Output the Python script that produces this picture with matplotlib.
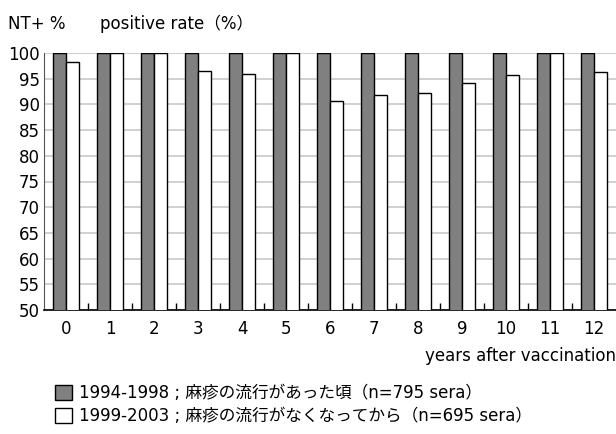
import matplotlib
matplotlib.use('Agg')
import matplotlib.pyplot as plt
import numpy as np

plt.rcParams['font.family'] = ['DejaVu Sans', 'Noto Sans CJK JP']

# data ========================
years = [0, 1, 2, 3, 4, 5, 6, 7, 8, 9, 10, 11, 12]
rate_9498 = [100, 100, 100, 100, 100, 100, 100, 100, 100, 100, 100, 100, 100]
rate_9903 = [98.3, 100, 100, 96.5, 96.0, 100, 90.7, 91.9, 92.2, 94.1, 95.7, 100, 96.4]
y_ticks = [50, 55, 60, 65, 70, 75, 80, 85, 90, 95, 100]
label_9498 = '1994-1998 ; 麻疹の流行があった頃（n=795 sera）'
label_9903 = '1999-2003 ; 麻疹の流行がなくなってから（n=695 sera）'

# plot ========================
fig = plt.figure(figsize=(6.16, 4.34), dpi=100)
ax = fig.add_axes([44 / 616, 1 - 310 / 434, 572 / 616, 257 / 434])

x = np.array(years)
w = 0.295
b1 = ax.bar(x - w / 2, rate_9498, w, color='#808080', edgecolor='black', linewidth=1, zorder=3,
            label=label_9498)
b2 = ax.bar(x + w / 2, rate_9903, w, color='white', edgecolor='black', linewidth=1, zorder=3,
            label=label_9903)

ax.set_xlim(-0.5, 12.5)
ax.set_ylim(50, 100)
ax.set_yticks(y_ticks)
ax.set_xticks(years)
ax.set_xticks(x[:-1] + 0.5, minor=True)
ax.tick_params(axis='y', length=0, pad=3, labelsize=12)
ax.tick_params(axis='x', which='major', length=0, pad=7, labelsize=12)
ax.tick_params(axis='x', which='minor', direction='in', length=5, width=1, color='black')
ax.yaxis.grid(True, color='#c8c8c8', linewidth=1.2, zorder=0)
ax.set_axisbelow(True)

ax.spines['top'].set_visible(False)
ax.spines['right'].set_visible(False)
ax.spines['left'].set_color('#555555')
ax.spines['bottom'].set_color('black')
ax.spines['bottom'].set_linewidth(1.2)

fig.text(8 / 616, 1 - 24 / 434, 'NT+ %', fontsize=12, va='center', ha='left')
fig.text(100 / 616, 1 - 24 / 434, 'positive rate（%）', fontsize=12, va='center', ha='left')
fig.text(616 / 616, 1 - 356 / 434, 'years after vaccination', fontsize=12, va='center', ha='right')

fig.legend(handles=[b1, b2], loc='upper left', bbox_to_anchor=(55 / 616, 1 - 384 / 434),
           frameon=False, fontsize=12, handlelength=1.0, handleheight=1.0, handletextpad=0.45,
           labelspacing=0.3, borderaxespad=0, borderpad=0)

fig.savefig('out.png', dpi=100)
